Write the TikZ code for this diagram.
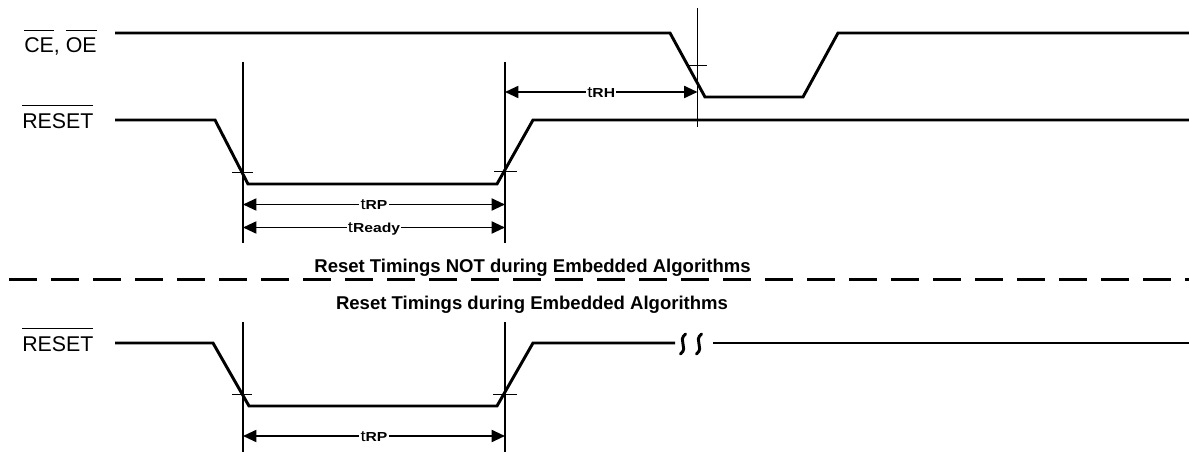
\documentclass[tikz,border=0pt]{standalone}
\usepackage{fontspec}
\setmainfont{Liberation Sans}
\usepackage{graphicx}
\usetikzlibrary{arrows.meta}
\newcommand\ovbar[1]{{\setbox0=\hbox{#1}\rlap{\raisebox{\dimexpr\ht0+5.2pt\relax}{\rule{\wd0}{0.8pt}}}\box0}}
\newcommand\tlab[1]{\scalebox{1.2}[1]{\fontsize{11.5}{13}\selectfont t\fontsize{9.8}{11}\selectfont\bfseries #1}}
\tikzset{
  sig/.style={line width=2.2pt},
  vline/.style={line width=1.3pt},
  tickmark/.style={line width=0.7pt},
  dimarrow/.style={line width=1.4pt, {Triangle[length=10pt,width=9pt]}-{Triangle[length=10pt,width=9pt]}},
  tl/.style={fill=white, inner sep=1pt, anchor=base, yshift=-3.9pt},
  sigtxt/.style={font=\fontsize{16}{19}\selectfont, inner sep=0, anchor=base west},
  head/.style={font=\fontsize{13.9}{16}\selectfont\bfseries, inner sep=0, anchor=base},
  sepline/.style={line width=2.3pt, dash pattern=on 21pt off 10.5pt},
  brk/.style={line width=2.2pt, line cap=round}
}
\begin{document}
\begin{tikzpicture}[x=0.75pt, y=-0.75pt]
\useasboundingbox (0,0) rectangle (1189,452);

% signal labels
\node[sigtxt] (ceoe) at (24,52.7) {\ovbar{CE}, \ovbar{OE}};
\node[sigtxt] (rst1) at (22,128.3) {\ovbar{RESET}};
\node[sigtxt] (rst2) at (22,351) {\ovbar{RESET}};

% CE, OE waveform
\draw[sig] (115,33) -- (670,33) -- (705,97) -- (803,97) -- (838,33) -- (1189,33);
% RESET (top)
\draw[sig] (115,120) -- (215,120) -- (248,184) -- (497,184) -- (533,120) -- (1189,120);

% verticals top
\coordinate (a1t) at (243,62);  \coordinate (a1b) at (243,243);
\coordinate (b1t) at (505,62);  \coordinate (b1b) at (505,243);
\coordinate (ct)  at (697.5,8); \coordinate (cb)  at (697.5,127);
\draw[vline] (a1t) -- (a1b);
\draw[vline] (b1t) -- (b1b);
\draw[vline] (ct) -- (cb);

% ticks top
\draw[tickmark] (232,172) -- (253,172);
\draw[tickmark] (494,171) -- (517,171);
\draw[tickmark] (688,65) -- (707,65);

% dimension arrows top
\coordinate (rh1) at (505,92);   \coordinate (rh2) at (697.5,92);
\coordinate (rp1) at (243,204.5); \coordinate (rp2) at (505,204.5);
\coordinate (rd1) at (243,227.5); \coordinate (rd2) at (505,227.5);
\draw[dimarrow] (rh1) -- node[tl] (lrh) {\tlab{RH}} (rh2);
\draw[dimarrow] (rp1) -- node[tl] (lrp) {\tlab{RP}} (rp2);
\draw[dimarrow] (rd1) -- node[tl] (lrd) {\tlab{Ready}} (rd2);

% separator
\coordinate (s1) at (9,279.3); \coordinate (s2) at (1189,279.3);
\draw[sepline] (s1) -- (s2);
\node[head] (h1) at (532.5,272.3) {Reset Timings NOT during Embedded Algorithms};
\node[head] (h2) at (532,309.3) {Reset Timings during Embedded Algorithms};

% RESET (bottom)
\draw[sig] (115,343) -- (213,343) -- (249,406) -- (497,406) -- (533,343) -- (675,343);
\draw[sig] (713,343) -- (1189,343);
\draw[brk] (685.5,334) .. controls (677,341) and (689,347) .. (680.5,354);
\draw[brk] (701.5,334) .. controls (693,341) and (705,347) .. (696.5,354);

% verticals bottom
\coordinate (a2t) at (243,322); \coordinate (a2b) at (243,452);
\coordinate (b2t) at (505,322); \coordinate (b2b) at (505,452);
\draw[vline] (a2t) -- (a2b);
\draw[vline] (b2t) -- (b2b);
\draw[tickmark] (232,394) -- (252,394);
\draw[tickmark] (493,394) -- (517,394);
\coordinate (rp3) at (243,436); \coordinate (rp4) at (505,436);
\draw[dimarrow] (rp3) -- node[tl] (lrp2) {\tlab{RP}} (rp4);
\end{tikzpicture}
\end{document}
